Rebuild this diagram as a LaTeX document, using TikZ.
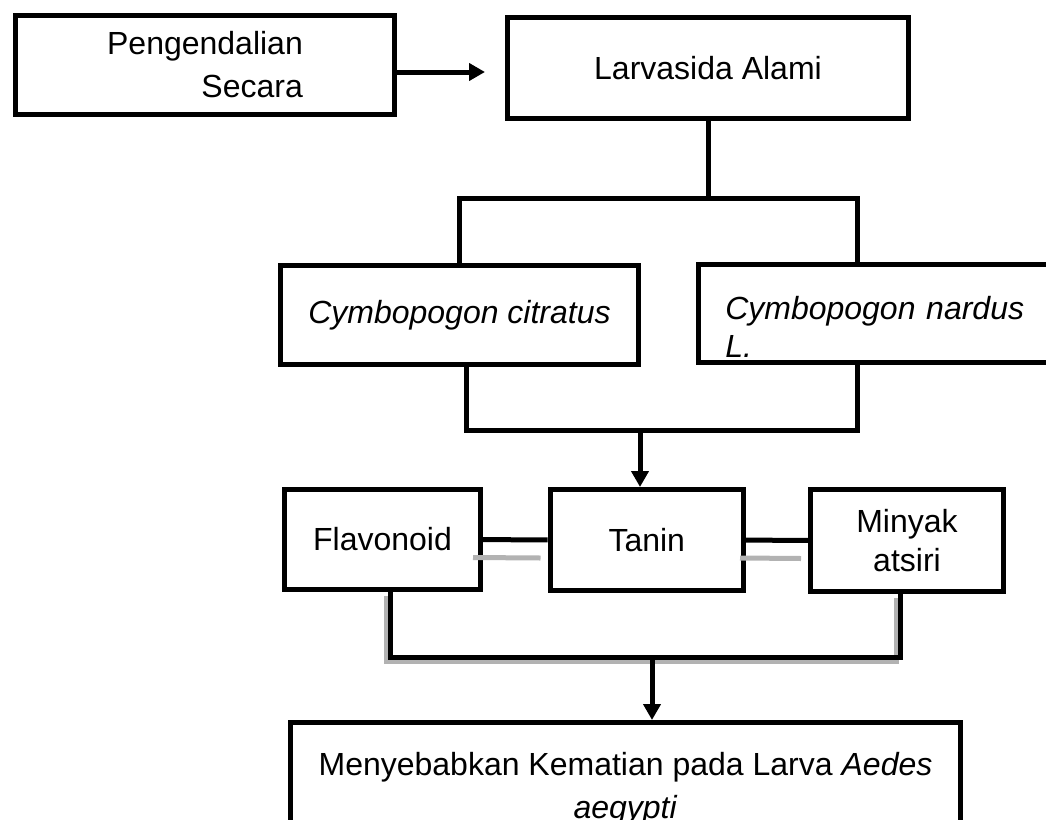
\documentclass[tikz,border=0pt]{standalone}
\usepackage{fontspec}
\setmainfont{Liberation Sans}
\usetikzlibrary{arrows.meta,calc}

\begin{document}
\begin{tikzpicture}[x=1pt, y=-1pt, line width=5pt, >={Triangle[width=17pt,length=16pt]},
  boxnode/.style={draw, rectangle, inner sep=0pt, align=center, font=\fontsize{32}{40}\selectfont},
  shadowline/.style={draw=black!30, line width=5pt}]
  \useasboundingbox (0,0) rectangle (1046,819);
  \clip (0,0) rectangle (1046,819);
  % Top row: control method and the natural larvicide.
  \node[boxnode, minimum width=379pt, minimum height=99pt, align=right, font=\fontsize{32}{43}\selectfont] (pengendalian) at (205,65) {Pengendalian\\Secara};
  \node[boxnode, minimum width=401pt, minimum height=101pt] (larvasida) at (708,68) {Larvasida Alami};
  % The two lemongrass species (the right box runs off the page).
  \node[boxnode, minimum width=358pt, minimum height=99pt, font=\fontsize{32}{40}\selectfont\itshape] (citratus) at (459.5,315) {Cymbopogon citratus};
  \node[boxnode, minimum width=376.5pt, minimum height=98pt, text width=323pt, align=left, text height=49pt, font=\fontsize{32}{38}\selectfont\itshape] (nardus) at (886.75,313.5) {Cymbopogon nardus\\L.};
  % Active compounds.
  \node[boxnode, minimum width=196pt, minimum height=100pt] (flavonoid) at (382.5,539.5) {Flavonoid};
  \node[boxnode, minimum width=193.5pt, minimum height=101pt] (tanin) at (646.75,540) {Tanin};
  \node[boxnode, minimum width=193pt, minimum height=102pt, font=\fontsize{32}{39}\selectfont] (minyak) at (907,540.5) {Minyak\\atsiri};
  % Outcome.
  \node[boxnode, minimum width=670pt, minimum height=132.5pt, font=\fontsize{32}{43}\selectfont] (kematian) at (625.5,788.75) {Menyebabkan Kematian pada Larva \textit{Aedes}\\\textit{aegypti}};
  % Junction points of the brackets.
  \coordinate (jTop) at (708,198);
  \coordinate (jMid) at (640,430);
  \coordinate (jLow) at (652,657);
  \coordinate (nardusx) at (857,0);
  % Faint shadows under some of the links.
  \draw[shadowline] ([xshift=-10pt,yshift=-18pt]flavonoid.east) -- ([xshift=-7pt,yshift=-18pt]tanin.west);
  \draw[shadowline] ([xshift=-6pt,yshift=-18pt]tanin.east) -- ([xshift=-7pt,yshift=-18pt]minyak.west);
  \draw[shadowline, transform canvas={shift={(-4,4)}}] ([xshift=7.5pt]flavonoid.south) |- (jLow) -| ([xshift=-7pt]minyak.south);
  % Links.
  \draw[->, shorten >=20pt] ([yshift=-7pt]pengendalian.east) -- ([yshift=-7pt]pengendalian.east -| larvasida.west);
  \draw (larvasida) -- (jTop);
  \draw (citratus.north) |- (jTop) -| (nardus.north -| nardusx);
  \draw ([xshift=6.5pt]citratus.south) |- (jMid) -| (nardus.south -| nardusx);
  \draw[->] (jMid) -- (jMid |- tanin.north);
  \draw (flavonoid) -- (tanin);
  \draw (tanin) -- (minyak);
  \draw ([xshift=7.5pt]flavonoid.south) |- (jLow) -| ([xshift=-7pt]minyak.south);
  \draw[->] (jLow) -- (jLow |- kematian.north);
\end{tikzpicture}
\end{document}
